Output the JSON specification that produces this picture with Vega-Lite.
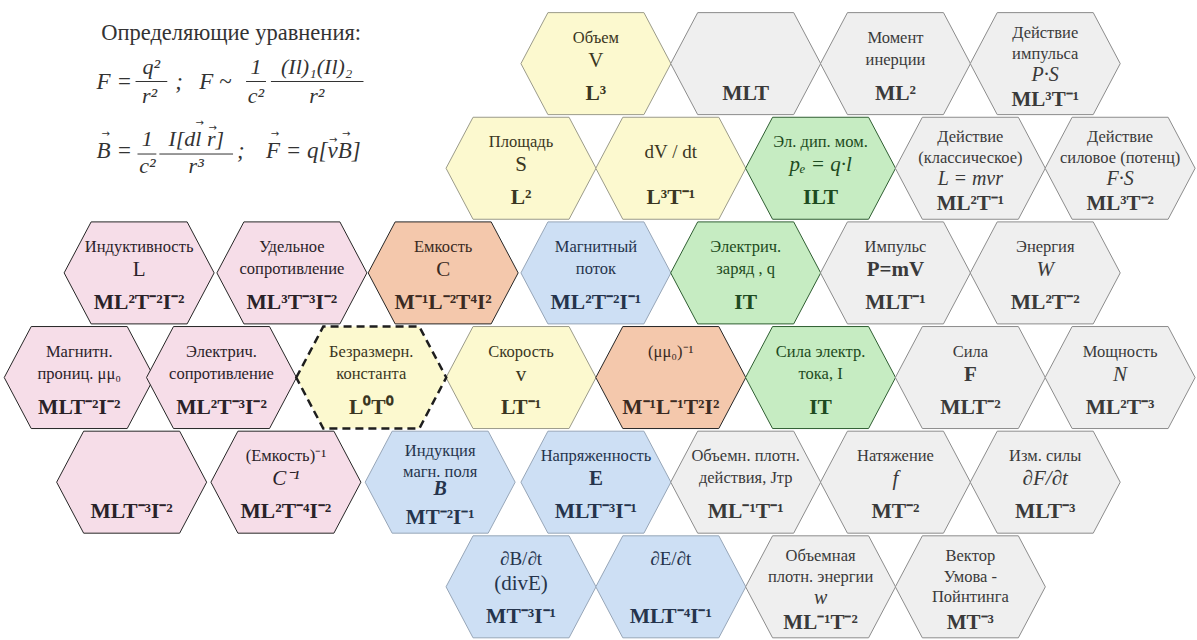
{
  "$schema": "https://vega.github.io/schema/vega-lite/v6.json",
  "width": 1197,
  "height": 640,
  "autosize": {"type": "fit", "contains": "padding"},
  "padding": 0,
  "background": "white",
  "view": {"stroke": null},
  "datasets": {
    "hex": [
      {"c":3.5,"r":0,"g":"y"},{"c":4.5,"r":0,"g":"g"},{"c":5.5,"r":0,"g":"g"},{"c":6.5,"r":0,"g":"g"},
      {"c":3,"r":1,"g":"y"},{"c":4,"r":1,"g":"y"},{"c":5,"r":1,"g":"G"},{"c":6,"r":1,"g":"g"},{"c":7,"r":1,"g":"g"},
      {"c":0.45,"r":2,"g":"p"},{"c":1.47,"r":2,"g":"p"},{"c":2.48,"r":2,"g":"o"},{"c":3.5,"r":2,"g":"b"},{"c":4.5,"r":2,"g":"G"},{"c":5.5,"r":2,"g":"g"},{"c":6.5,"r":2,"g":"g"},
      {"c":0.05,"r":3,"g":"p"},{"c":1,"r":3,"g":"p"},{"c":2,"r":3,"g":"d"},{"c":3,"r":3,"g":"y"},{"c":4,"r":3,"g":"o"},{"c":5,"r":3,"g":"G"},{"c":6,"r":3,"g":"g"},{"c":7,"r":3,"g":"g"},
      {"c":0.4,"r":4,"g":"p"},{"c":1.43,"r":4,"g":"p"},{"c":2.46,"r":4,"g":"b"},{"c":3.5,"r":4,"g":"b"},{"c":4.5,"r":4,"g":"g"},{"c":5.5,"r":4,"g":"g"},{"c":6.5,"r":4,"g":"g"},
      {"c":3,"r":5,"g":"b"},{"c":4,"r":5,"g":"b"},{"c":5,"r":5,"g":"g"},{"c":6,"r":5,"g":"g"}
    ],
    "txt": [
      {"c":3.5,"r":0,"g":"y","s":"p","k":"n","t":"Объем"},
      {"c":3.5,"r":0,"g":"y","s":"q","k":"sr","t":"V"},
      {"c":3.5,"r":0,"g":"y","s":"s","k":"d","t":"L³"},
      {"c":4.5,"r":0,"g":"g","s":"s","k":"d","t":"MLT"},
      {"c":5.5,"r":0,"g":"g","s":"p","k":"n","t":"Момент"},
      {"c":5.5,"r":0,"g":"g","s":"q","k":"n","t":"инерции"},
      {"c":5.5,"r":0,"g":"g","s":"s","k":"d","t":"ML²"},
      {"c":6.5,"r":0,"g":"g","s":"a","k":"n","t":"Действие"},
      {"c":6.5,"r":0,"g":"g","s":"b","k":"n","t":"импульса"},
      {"c":6.5,"r":0,"g":"g","s":"c","k":"si","t":"P·S"},
      {"c":6.5,"r":0,"g":"g","s":"d","k":"d","t":"ML³T⁻¹"},

      {"c":3,"r":1,"g":"y","s":"p","k":"n","t":"Площадь"},
      {"c":3,"r":1,"g":"y","s":"q","k":"sr","t":"S"},
      {"c":3,"r":1,"g":"y","s":"s","k":"d","t":"L²"},
      {"c":4,"r":1,"g":"y","s":"b","k":"sr","t":"dV  / dt"},
      {"c":4,"r":1,"g":"y","s":"s","k":"d","t":"L³T⁻¹"},
      {"c":5,"r":1,"g":"G","s":"p","k":"n","t":"Эл. дип. мом."},
      {"c":5,"r":1,"g":"G","s":"q","k":"si","t":"pₑ = q·l"},
      {"c":5,"r":1,"g":"G","s":"s","k":"d","t":"ILT"},
      {"c":6,"r":1,"g":"g","s":"a","k":"n","t":"Действие"},
      {"c":6,"r":1,"g":"g","s":"b","k":"n","t":"(классическое)"},
      {"c":6,"r":1,"g":"g","s":"c","k":"si","t":"L = mvr"},
      {"c":6,"r":1,"g":"g","s":"d","k":"d","t":"ML²T⁻¹"},
      {"c":7,"r":1,"g":"g","s":"a","k":"n","t":"Действие"},
      {"c":7,"r":1,"g":"g","s":"b","k":"n","t":"силовое (потенц)"},
      {"c":7,"r":1,"g":"g","s":"c","k":"si","t":"F·S"},
      {"c":7,"r":1,"g":"g","s":"d","k":"d","t":"ML³T⁻²"},

      {"c":0.45,"r":2,"g":"p","s":"p","k":"n","t":"Индуктивность"},
      {"c":0.45,"r":2,"g":"p","s":"q","k":"sr","t":"L"},
      {"c":0.45,"r":2,"g":"p","s":"s","k":"d","t":"ML²T⁻²I⁻²"},
      {"c":1.47,"r":2,"g":"p","s":"p","k":"n","t":"Удельное"},
      {"c":1.47,"r":2,"g":"p","s":"q","k":"n","t":"сопротивление"},
      {"c":1.47,"r":2,"g":"p","s":"s","k":"d","t":"ML³T⁻³I⁻²"},
      {"c":2.48,"r":2,"g":"o","s":"p","k":"n","t":"Емкость"},
      {"c":2.48,"r":2,"g":"o","s":"q","k":"sr","t":"C"},
      {"c":2.48,"r":2,"g":"o","s":"s","k":"d","t":"M⁻¹L⁻²T⁴I²"},
      {"c":3.5,"r":2,"g":"b","s":"p","k":"n","t":"Магнитный"},
      {"c":3.5,"r":2,"g":"b","s":"q","k":"n","t":"поток"},
      {"c":3.5,"r":2,"g":"b","s":"s","k":"d","t":"ML²T⁻²I⁻¹"},
      {"c":4.5,"r":2,"g":"G","s":"p","k":"n","t":"Электрич."},
      {"c":4.5,"r":2,"g":"G","s":"q","k":"n","t":"заряд , q"},
      {"c":4.5,"r":2,"g":"G","s":"s","k":"d","t":"IT"},
      {"c":5.5,"r":2,"g":"g","s":"p","k":"n","t":"Импульс"},
      {"c":5.5,"r":2,"g":"g","s":"q","k":"sb","t":"P=mV"},
      {"c":5.5,"r":2,"g":"g","s":"s","k":"d","t":"MLT⁻¹"},
      {"c":6.5,"r":2,"g":"g","s":"p","k":"n","t":"Энергия"},
      {"c":6.5,"r":2,"g":"g","s":"q","k":"si","t":"W"},
      {"c":6.5,"r":2,"g":"g","s":"s","k":"d","t":"ML²T⁻²"},

      {"c":0.05,"r":3,"g":"p","s":"p","k":"n","t":"Магнитн."},
      {"c":0.05,"r":3,"g":"p","s":"q","k":"n","t":"прониц. μμ₀"},
      {"c":0.05,"r":3,"g":"p","s":"s","k":"d","t":"MLT⁻²I⁻²"},
      {"c":1,"r":3,"g":"p","s":"p","k":"n","t":"Электрич."},
      {"c":1,"r":3,"g":"p","s":"q","k":"n","t":"сопротивление"},
      {"c":1,"r":3,"g":"p","s":"s","k":"d","t":"ML²T⁻³I⁻²"},
      {"c":2,"r":3,"g":"d","s":"p","k":"n","t":"Безразмерн."},
      {"c":2,"r":3,"g":"d","s":"q","k":"n","t":"константа"},
      {"c":2,"r":3,"g":"d","s":"s","k":"d","t":"L⁰T⁰"},
      {"c":3,"r":3,"g":"y","s":"p","k":"n","t":"Скорость"},
      {"c":3,"r":3,"g":"y","s":"q","k":"sr","t":"v"},
      {"c":3,"r":3,"g":"y","s":"s","k":"d","t":"LT⁻¹"},
      {"c":4,"r":3,"g":"o","s":"p","k":"n","t":"(μμ₀)⁻¹"},
      {"c":4,"r":3,"g":"o","s":"s","k":"d","t":"M⁻¹L⁻¹T²I²"},
      {"c":5,"r":3,"g":"G","s":"p","k":"n","t":"Сила электр."},
      {"c":5,"r":3,"g":"G","s":"q","k":"n","t":"тока, I"},
      {"c":5,"r":3,"g":"G","s":"s","k":"d","t":"IT"},
      {"c":6,"r":3,"g":"g","s":"p","k":"n","t":"Сила"},
      {"c":6,"r":3,"g":"g","s":"q","k":"sb","t":"F"},
      {"c":6,"r":3,"g":"g","s":"s","k":"d","t":"MLT⁻²"},
      {"c":7,"r":3,"g":"g","s":"p","k":"n","t":"Мощность"},
      {"c":7,"r":3,"g":"g","s":"q","k":"si","t":"N"},
      {"c":7,"r":3,"g":"g","s":"s","k":"d","t":"ML²T⁻³"},

      {"c":0.4,"r":4,"g":"p","s":"s","k":"d","t":"MLT⁻³I⁻²"},
      {"c":1.43,"r":4,"g":"p","s":"p","k":"n","t":"(Емкость)⁻¹"},
      {"c":1.43,"r":4,"g":"p","s":"q","k":"si","t":"C⁻¹"},
      {"c":1.43,"r":4,"g":"p","s":"s","k":"d","t":"ML²T⁻⁴I⁻²"},
      {"c":2.46,"r":4,"g":"b","s":"a","k":"n","t":"Индукция"},
      {"c":2.46,"r":4,"g":"b","s":"b","k":"n","t":"магн. поля"},
      {"c":2.46,"r":4,"g":"b","s":"c","k":"sb","t":"B"},
      {"c":2.46,"r":4,"g":"b","s":"d","k":"d","t":"MT⁻²I⁻¹"},
      {"c":3.5,"r":4,"g":"b","s":"p","k":"n","t":"Напряженность"},
      {"c":3.5,"r":4,"g":"b","s":"q","k":"sb","t":"E"},
      {"c":3.5,"r":4,"g":"b","s":"s","k":"d","t":"MLT⁻³I⁻¹"},
      {"c":4.5,"r":4,"g":"g","s":"p","k":"n","t":"Объемн. плотн."},
      {"c":4.5,"r":4,"g":"g","s":"q","k":"n","t":"действия, Jтр"},
      {"c":4.5,"r":4,"g":"g","s":"s","k":"d","t":"ML⁻¹T⁻¹"},
      {"c":5.5,"r":4,"g":"g","s":"p","k":"n","t":"Натяжение"},
      {"c":5.5,"r":4,"g":"g","s":"q","k":"si","t":"f"},
      {"c":5.5,"r":4,"g":"g","s":"s","k":"d","t":"MT⁻²"},
      {"c":6.5,"r":4,"g":"g","s":"p","k":"n","t":"Изм. силы"},
      {"c":6.5,"r":4,"g":"g","s":"q","k":"si","t":"∂F/∂t"},
      {"c":6.5,"r":4,"g":"g","s":"s","k":"d","t":"MLT⁻³"},

      {"c":3,"r":5,"g":"b","s":"p","k":"sr","t":"∂B/∂t"},
      {"c":3,"r":5,"g":"b","s":"q","k":"sr","t":"(divE)"},
      {"c":3,"r":5,"g":"b","s":"s","k":"d","t":"MT⁻³I⁻¹"},
      {"c":4,"r":5,"g":"b","s":"p","k":"sr","t":"∂E/∂t"},
      {"c":4,"r":5,"g":"b","s":"s","k":"d","t":"MLT⁻⁴I⁻¹"},
      {"c":5,"r":5,"g":"g","s":"a","k":"n","t":"Объемная"},
      {"c":5,"r":5,"g":"g","s":"b","k":"n","t":"плотн. энергии"},
      {"c":5,"r":5,"g":"g","s":"c","k":"si","t":"w"},
      {"c":5,"r":5,"g":"g","s":"d","k":"d","t":"ML⁻¹T⁻²"},
      {"c":6,"r":5,"g":"g","s":"a","k":"n","t":"Вектор"},
      {"c":6,"r":5,"g":"g","s":"b","k":"n","t":"Умова -"},
      {"c":6,"r":5,"g":"g","s":"c","k":"n","t":"Пойнтинга"},
      {"c":6,"r":5,"g":"g","s":"d","k":"d","t":"MT⁻³"}
    ],
    "fx": [
      {"c":1.064,"r":-0.294,"k":"T","t":"Определяющие уравнения:"},
      {"c":0.166,"r":0.171,"k":"L","t":"F ="},
      {"c":0.532,"r":0.028,"k":"N","t":"q²"},
      {"c":0.519,"r":0.313,"k":"N","t":"r²"},
      {"c":0.691,"r":0.171,"k":"L","t":";"},
      {"c":0.851,"r":0.171,"k":"L","t":"F ~"},
      {"c":1.23,"r":0.028,"k":"N","t":"1"},
      {"c":1.23,"r":0.313,"k":"N","t":"c²"},
      {"c":1.636,"r":0.028,"k":"N","t":"(Il)₁(Il)₂"},
      {"c":1.636,"r":0.313,"k":"N","t":"r²"},
      {"c":0.166,"r":0.836,"k":"L","t":"B ="},
      {"c":0.505,"r":0.722,"k":"N","t":"1"},
      {"c":0.505,"r":0.978,"k":"N","t":"c²"},
      {"c":0.831,"r":0.722,"k":"N","t":"I[dl r]"},
      {"c":0.831,"r":0.978,"k":"N","t":"r³"},
      {"c":1.104,"r":0.836,"k":"L","t":";"},
      {"c":1.297,"r":0.836,"k":"L","t":"F = q[vB]"},
      {"c":0.226,"r":0.675,"k":"A","t":"→"},
      {"c":1.356,"r":0.675,"k":"A","t":"→"},
      {"c":0.855,"r":0.57,"k":"A","t":"→"},
      {"c":0.941,"r":0.615,"k":"A","t":"→"},
      {"c":1.745,"r":0.73,"k":"A","t":"→"},
      {"c":1.832,"r":0.675,"k":"A","t":"→"}
    ],
    "bars": [
      {"c":0.426,"c2":0.638,"r":0.171},
      {"c":1.164,"c2":1.297,"r":0.171},
      {"c":1.33,"c2":1.948,"r":0.171},
      {"c":0.439,"c2":0.565,"r":0.864},
      {"c":0.585,"c2":1.077,"r":0.864}
    ]
  },
  "encoding": {
    "x": {"field": "c", "type": "quantitative", "axis": null, "scale": {"domain": [-0.479, 7.48], "nice": false, "zero": false}},
    "y": {"field": "r", "type": "quantitative", "axis": null, "scale": {"domain": [-0.608, 5.47], "nice": false, "zero": false, "reverse": true}}
  },
  "layer": [
    {
      "data": {"name": "hex"},
      "transform": [{"filter": "datum.g != 'd'"}],
      "mark": {"type": "point", "shape": "M -1 0 L -0.64 -0.68 L 0.64 -0.68 L 1 0 L 0.64 0.68 L -0.64 0.68 Z", "size": 22500, "filled": true, "opacity": 1},
      "encoding": {
        "fill": {"field": "g", "type": "nominal", "legend": null, "scale": {"domain": ["y","g","p","o","b","G"], "range": ["#fcf9cf","#efefef","#f6dde8","#f4c8ac","#cddff4","#c6ecc2"]}},
        "stroke": {"field": "g", "type": "nominal", "legend": null, "scale": {"domain": ["y","g","p","o","b","G"], "range": ["#9b9b8a","#8c8c8c","#262626","#262626","#97a6b8","#2f5e32"]}},
        "strokeWidth": {"field": "g", "type": "nominal", "legend": null, "scale": {"domain": ["y","g","p","o","b","G"], "range": [1, 1, 2.5, 2.5, 1, 2]}}
      }
    },
    {
      "data": {"name": "hex"},
      "transform": [{"filter": "datum.g == 'd'"}],
      "mark": {"type": "point", "shape": "M -1 0 L -0.64 -0.68 L 0.64 -0.68 L 1 0 L 0.64 0.68 L -0.64 0.68 Z", "size": 22500, "filled": false, "opacity": 1, "fill": "#fcf9cf", "stroke": "#1e1e1e", "strokeWidth": 2.5, "strokeDash": [8, 5]},
      "encoding": {}
    },
    {
      "data": {"name": "bars"},
      "mark": {"type": "rule", "stroke": "#333333", "strokeWidth": 1},
      "encoding": {"x2": {"field": "c2"}}
    },
    {
      "data": {"name": "fx"},
      "transform": [{"filter": "datum.k == 'T'"}],
      "mark": {"type": "text", "font": "Liberation Serif", "baseline": "middle", "fontSize": 22.5, "align": "center", "fill": "#333333"},
      "encoding": {"text": {"field": "t"}}
    },
    {
      "data": {"name": "fx"},
      "transform": [{"filter": "datum.k == 'L'"}],
      "mark": {"type": "text", "font": "Liberation Serif", "baseline": "middle", "fontSize": 23, "fontStyle": "italic", "align": "left", "fill": "#333333"},
      "encoding": {"text": {"field": "t"}}
    },
    {
      "data": {"name": "fx"},
      "transform": [{"filter": "datum.k == 'N'"}],
      "mark": {"type": "text", "font": "Liberation Serif", "baseline": "middle", "fontSize": 22, "fontStyle": "italic", "align": "center", "fill": "#333333"},
      "encoding": {"text": {"field": "t"}}
    },
    {
      "data": {"name": "fx"},
      "transform": [{"filter": "datum.k == 'A'"}],
      "mark": {"type": "text", "font": "DejaVu Sans", "baseline": "middle", "fontSize": 10, "align": "center", "fill": "#333333"},
      "encoding": {"text": {"field": "t"}}
    },
    {
      "data": {"name": "txt"},
      "transform": [{"filter": "datum.s == 'a' && datum.k == 'n'"}],
      "mark": {"type": "text", "font": "Liberation Serif", "baseline": "middle", "fontSize": 16.5, "dy": -31},
      "encoding": {"text": {"field": "t"}, "color": {"field": "g", "type": "nominal", "legend": null, "scale": {"domain": ["y","g","p","o","b","G","d"], "range": ["#3a3622","#3a3a3a","#2a2228","#3a2a22","#25344c","#1d4a20","#3a3622"]}}}
    },
    {
      "data": {"name": "txt"},
      "transform": [{"filter": "datum.s == 'b' && datum.k == 'n'"}],
      "mark": {"type": "text", "font": "Liberation Serif", "baseline": "middle", "fontSize": 16.5, "dy": -10},
      "encoding": {"text": {"field": "t"}, "color": {"field": "g", "type": "nominal", "legend": null}}
    },
    {
      "data": {"name": "txt"},
      "transform": [{"filter": "datum.s == 'b' && datum.k == 'sr'"}],
      "mark": {"type": "text", "font": "Liberation Serif", "baseline": "middle", "fontSize": 19, "dy": -16},
      "encoding": {"text": {"field": "t"}, "color": {"field": "g", "type": "nominal", "legend": null}}
    },
    {
      "data": {"name": "txt"},
      "transform": [{"filter": "datum.s == 'c' && datum.k == 'n'"}],
      "mark": {"type": "text", "font": "Liberation Serif", "baseline": "middle", "fontSize": 16.5, "dy": 10},
      "encoding": {"text": {"field": "t"}, "color": {"field": "g", "type": "nominal", "legend": null}}
    },
    {
      "data": {"name": "txt"},
      "transform": [{"filter": "datum.s == 'c' && datum.k == 'si'"}],
      "mark": {"type": "text", "font": "Liberation Serif", "baseline": "middle", "fontSize": 20, "fontStyle": "italic", "dy": 11},
      "encoding": {"text": {"field": "t"}, "color": {"field": "g", "type": "nominal", "legend": null}}
    },
    {
      "data": {"name": "txt"},
      "transform": [{"filter": "datum.s == 'c' && datum.k == 'sb'"}],
      "mark": {"type": "text", "font": "Liberation Serif", "baseline": "middle", "fontSize": 20, "fontStyle": "italic", "fontWeight": "bold", "dy": 7},
      "encoding": {"text": {"field": "t"}, "color": {"field": "g", "type": "nominal", "legend": null}}
    },
    {
      "data": {"name": "txt"},
      "transform": [{"filter": "datum.s == 'd' && datum.k == 'd'"}],
      "mark": {"type": "text", "font": "Liberation Serif", "baseline": "middle", "fontSize": 21, "fontWeight": "bold", "dy": 36},
      "encoding": {"text": {"field": "t"}, "color": {"field": "g", "type": "nominal", "legend": null}}
    },
    {
      "data": {"name": "txt"},
      "transform": [{"filter": "datum.s == 'p' && datum.k == 'n'"}],
      "mark": {"type": "text", "font": "Liberation Serif", "baseline": "middle", "fontSize": 16.5, "dy": -26},
      "encoding": {"text": {"field": "t"}, "color": {"field": "g", "type": "nominal", "legend": null}}
    },
    {
      "data": {"name": "txt"},
      "transform": [{"filter": "datum.s == 'p' && datum.k == 'sr'"}],
      "mark": {"type": "text", "font": "Liberation Serif", "baseline": "middle", "fontSize": 19, "dy": -28},
      "encoding": {"text": {"field": "t"}, "color": {"field": "g", "type": "nominal", "legend": null}}
    },
    {
      "data": {"name": "txt"},
      "transform": [{"filter": "datum.s == 'q' && datum.k == 'n'"}],
      "mark": {"type": "text", "font": "Liberation Serif", "baseline": "middle", "fontSize": 16.5, "dy": -4},
      "encoding": {"text": {"field": "t"}, "color": {"field": "g", "type": "nominal", "legend": null}}
    },
    {
      "data": {"name": "txt"},
      "transform": [{"filter": "datum.s == 'q' && datum.k == 'sb'"}],
      "mark": {"type": "text", "font": "Liberation Serif", "baseline": "middle", "fontSize": 21, "fontWeight": "bold", "dy": -3},
      "encoding": {"text": {"field": "t"}, "color": {"field": "g", "type": "nominal", "legend": null}}
    },
    {
      "data": {"name": "txt"},
      "transform": [{"filter": "datum.s == 'q' && datum.k == 'si'"}],
      "mark": {"type": "text", "font": "Liberation Serif", "baseline": "middle", "fontSize": 21, "fontStyle": "italic", "dy": -3},
      "encoding": {"text": {"field": "t"}, "color": {"field": "g", "type": "nominal", "legend": null}}
    },
    {
      "data": {"name": "txt"},
      "transform": [{"filter": "datum.s == 'q' && datum.k == 'sr'"}],
      "mark": {"type": "text", "font": "Liberation Serif", "baseline": "middle", "fontSize": 21, "dy": -3},
      "encoding": {"text": {"field": "t"}, "color": {"field": "g", "type": "nominal", "legend": null}}
    },
    {
      "data": {"name": "txt"},
      "transform": [{"filter": "datum.s == 's' && datum.k == 'd'"}],
      "mark": {"type": "text", "font": "Liberation Serif", "baseline": "middle", "fontSize": 21.5, "fontWeight": "bold", "dy": 30},
      "encoding": {"text": {"field": "t"}, "color": {"field": "g", "type": "nominal", "legend": null}}
    }
  ]
}
